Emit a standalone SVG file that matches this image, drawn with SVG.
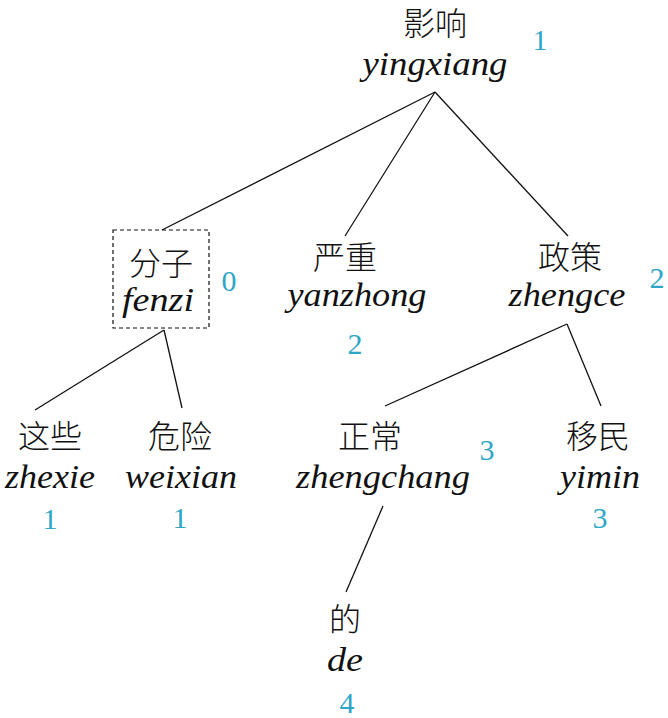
<svg xmlns="http://www.w3.org/2000/svg" width="668" height="718" viewBox="0 0 668 718">
<style>
.zh{font-family:"Noto Sans CJK SC","Noto Sans CJK TC",sans-serif;font-size:32px;fill:#111;text-anchor:middle;font-weight:300}
.py{font-family:"Liberation Serif","DejaVu Serif",serif;font-style:italic;font-size:33px;fill:#111;text-anchor:middle}
.num{font-family:"Liberation Serif","DejaVu Serif",serif;font-size:30px;fill:#2ea6c6;text-anchor:middle}
.edge{stroke:#111;stroke-width:1.3;fill:none}
</style>
<rect width="668" height="718" fill="#fff"/>
<g id="edges">
<line class="edge" x1="435" y1="92" x2="162" y2="230"/>
<line class="edge" x1="435" y1="92" x2="345" y2="236"/>
<line class="edge" x1="435" y1="92" x2="568" y2="236"/>
<line class="edge" x1="164" y1="330" x2="35" y2="410"/>
<line class="edge" x1="164" y1="330" x2="182" y2="408"/>
<line class="edge" x1="567" y1="324" x2="385" y2="406"/>
<line class="edge" x1="567" y1="324" x2="601" y2="406"/>
<line class="edge" x1="383" y1="506" x2="346" y2="592"/>
</g>
<g id="yingxiang">
<text class="zh" x="435" y="35">影响</text>
<text class="py" x="435" y="75" textLength="145" lengthAdjust="spacingAndGlyphs">yingxiang</text>
<text class="num" x="540" y="50">1</text>
</g>
<g id="fenzi">
<rect x="113" y="230" width="96" height="98" fill="none" stroke="#111" stroke-width="1.2" stroke-dasharray="4,3"/>
<text class="zh" x="161" y="275">分子</text>
<text class="py" x="158" y="311" textLength="72" lengthAdjust="spacingAndGlyphs">fenzi</text>
<text class="num" x="229" y="291">0</text>
</g>
<g id="yanzhong">
<text class="zh" x="345" y="269">严重</text>
<text class="py" x="357" y="306" textLength="139" lengthAdjust="spacingAndGlyphs">yanzhong</text>
<text class="num" x="355" y="354">2</text>
</g>
<g id="zhengce">
<text class="zh" x="570" y="269">政策</text>
<text class="py" x="567" y="306" textLength="117" lengthAdjust="spacingAndGlyphs">zhengce</text>
<text class="num" x="657" y="288">2</text>
</g>
<g id="zhexie">
<text class="zh" x="50" y="448">这些</text>
<text class="py" x="50" y="488" textLength="90" lengthAdjust="spacingAndGlyphs">zhexie</text>
<text class="num" x="50" y="529">1</text>
</g>
<g id="weixian">
<text class="zh" x="180" y="448">危险</text>
<text class="py" x="181" y="488" textLength="112" lengthAdjust="spacingAndGlyphs">weixian</text>
<text class="num" x="180" y="528">1</text>
</g>
<g id="zhengchang">
<text class="zh" x="370" y="448">正常</text>
<text class="py" x="383" y="488" textLength="174" lengthAdjust="spacingAndGlyphs">zhengchang</text>
<text class="num" x="487" y="460">3</text>
</g>
<g id="yimin">
<text class="zh" x="598" y="448">移民</text>
<text class="py" x="600" y="488" textLength="80" lengthAdjust="spacingAndGlyphs">yimin</text>
<text class="num" x="600" y="528">3</text>
</g>
<g id="de">
<text class="zh" x="345" y="631">的</text>
<text class="py" x="345" y="671" textLength="36" lengthAdjust="spacingAndGlyphs">de</text>
<text class="num" x="347" y="713">4</text>
</g>
</svg>
